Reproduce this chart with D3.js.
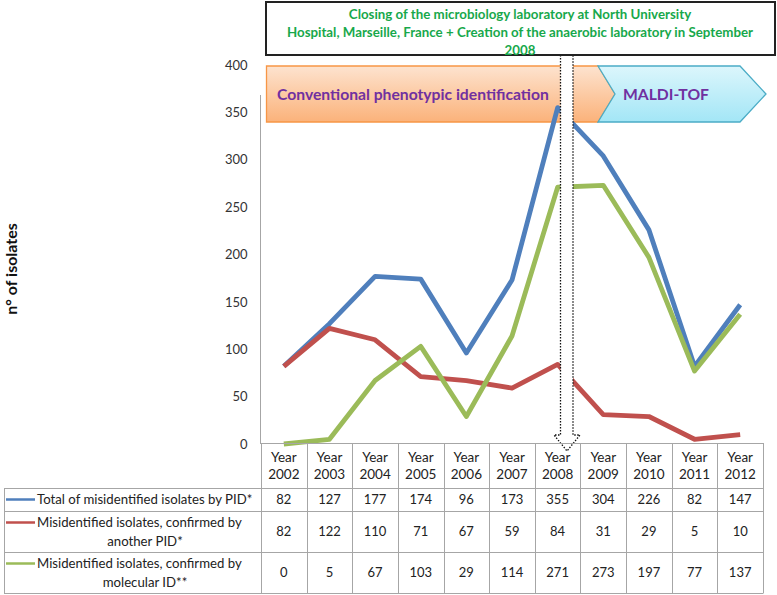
<!DOCTYPE html>
<html><head><meta charset="utf-8">
<script src="https://cdn.jsdelivr.net/npm/d3@7"></script>
<style>body{margin:0;background:#fff}svg{display:block;font-family:Lato,"Open Sans",sans-serif}</style>
</head><body><svg id="c" width="777" height="595"></svg>
<script>
const years = ["2002","2003","2004","2005","2006","2007","2008","2009","2010","2011","2012"];
const totalPID = [82,127,177,174,96,173,355,304,226,82,147];
const confirmedPID = [82,122,110,71,67,59,84,31,29,5,10];
const confirmedMol = [0,5,67,103,29,114,271,273,197,77,137];
const seriesNames = [["Total of misidentified isolates by PID*"],["Misidentified isolates, confirmed by","another PID*"],["Misidentified isolates, confirmed by","molecular ID**"]];
const seriesColors = ["#4f7fbc","#c0504d","#9bbb59"];
const yTicks = [0,50,100,150,200,250,300,350,400];
const annotation = ["Closing of the microbiology laboratory at North University","Hospital, Marseille, France + Creation of the anaerobic laboratory in September","2008"];
const phases = ["Conventional phenotypic identification","MALDI-TOF"];

const svg = d3.select("#c");
const series = [totalPID, confirmedPID, confirmedMol];
const x = d3.scaleBand().domain(years).range([261,763]);
const bw = x.bandwidth();
const cx = d => x(d)+bw/2;
const y = d3.scaleLinear().domain([0,400]).range([444,65]);

const defs = svg.append("defs");
const g1 = defs.append("linearGradient").attr("id","og").attr("x1",0).attr("y1",0).attr("x2",0).attr("y2",1);
g1.append("stop").attr("offset","0").attr("stop-color","#fde3cf");
g1.append("stop").attr("offset","1").attr("stop-color","#fbb27a");
const g2 = defs.append("linearGradient").attr("id","cg").attr("x1",0).attr("y1",0).attr("x2",0).attr("y2",1);
g2.append("stop").attr("offset","0").attr("stop-color","#dcf6fc");
g2.append("stop").attr("offset","1").attr("stop-color","#a3e6f6");

// y axis
const ya = svg.append("g").attr("transform","translate(260.5,0)")
  .call(d3.axisLeft(y).tickValues(yTicks).tickSize(0).tickPadding(13));
ya.select(".domain").remove();
ya.selectAll("text").attr("font-size",13).attr("fill","#333").attr("font-family","Lato");
svg.append("line").attr("x1",260.5).attr("x2",260.5).attr("y1",95).attr("y2",y(0)).attr("stroke","#a6a6a6");

svg.append("text").attr("transform","translate(17,269) rotate(-90)").attr("text-anchor","middle")
  .attr("font-size",16).attr("font-weight","bold").attr("fill","#111").text("n° of isolates");

// phase arrows
const yt=66, yb=122, ym=(yt+yb)/2;
svg.append("path").attr("d",`M266.5,${yt}H598L615,${ym}L598,${yb}H266.5Z`)
  .attr("fill","url(#og)").attr("stroke","#f79646").attr("stroke-width",1.3);
svg.append("path").attr("d",`M598,${yt}H740L766,${ym}L740,${yb}H598L615,${ym}Z`)
  .attr("fill","url(#cg)").attr("stroke","#4bacc6").attr("stroke-width",1.3);
svg.append("text").attr("x",277).attr("y",100).attr("font-size",15.7).attr("font-weight","bold").attr("fill","#7030a0").text(phases[0]);
svg.append("text").attr("x",623).attr("y",100).attr("font-size",15.7).attr("font-weight","bold").attr("fill","#7030a0").text(phases[1]);

// lines
const line = d3.line().x((d,i)=>cx(years[i])).y(d=>y(d));
series.forEach((s,k)=>{
  svg.append("path").datum(s).attr("d",line).attr("fill","none")
    .attr("stroke",seriesColors[k]).attr("stroke-width",4.8).attr("stroke-linejoin","round");
});

// dotted arrow
svg.append("path").attr("d","M560.5,55V435H554L567,451L580,435H573V55Z").attr("fill","#fff").attr("stroke","none");
svg.append("path").attr("d","M560.5,55V435H554L567,451L580,435H573V55").attr("fill","none")
  .attr("stroke","#111").attr("stroke-width",1.3).attr("stroke-dasharray","1.5,1.5");

// annotation box
svg.append("rect").attr("x",266).attr("y",2).attr("width",509).attr("height",53).attr("fill","#fff").attr("stroke","#222").attr("stroke-width",2);
annotation.forEach((t,i)=>{
  svg.append("text").attr("x",520).attr("y",19+i*18).attr("text-anchor","middle").attr("font-size",13.3)
    .attr("font-weight","bold").attr("fill","#17a84b").text(t);
});

// table
const tbl = svg.append("g");
const border = "#a6a6a6";
const rowY = [443,488,511,552,593];
const xs = years.map(d=>x(d)).concat([763]);
tbl.append("line").attr("x1",260.5).attr("x2",763).attr("y1",rowY[0]+.5).attr("y2",rowY[0]+.5).attr("stroke",border);
rowY.slice(1).forEach(r=>tbl.append("line").attr("x1",4).attr("x2",763).attr("y1",r+.5).attr("y2",r+.5).attr("stroke",border));
xs.forEach(v=>tbl.append("line").attr("x1",Math.round(v)+.5).attr("x2",Math.round(v)+.5).attr("y1",rowY[0]).attr("y2",rowY[4]+.5).attr("stroke",border));
tbl.append("line").attr("x1",4.5).attr("x2",4.5).attr("y1",rowY[1]).attr("y2",rowY[4]+.5).attr("stroke",border);
years.forEach(yr=>{
  tbl.append("text").attr("x",cx(yr)).attr("y",462).attr("text-anchor","middle").attr("font-size",13.5).attr("fill","#222").text("Year");
  tbl.append("text").attr("x",cx(yr)).attr("y",479).attr("text-anchor","middle").attr("font-size",13.5).attr("fill","#222").text(yr);
});
series.forEach((s,k)=>{
  const mid = (rowY[k+1]+rowY[k+2])/2;
  s.forEach((v,i)=>tbl.append("text").attr("x",cx(years[i])).attr("y",mid+4.5).attr("text-anchor","middle").attr("font-size",13).attr("fill","#222").text(v));
  const lines = seriesNames[k];
  const l0 = lines.length===1 ? mid+4.5 : mid-4.5;
  lines.forEach((t,j)=>tbl.append("text").attr("x",j===0?37:145).attr("y",l0+j*18.5)
     .attr("text-anchor",j===0?"start":"middle").attr("font-size",13.2).attr("fill","#222").text(t));
  tbl.append("line").attr("x1",6).attr("x2",35).attr("y1",l0-4.5).attr("y2",l0-4.5).attr("stroke",seriesColors[k]).attr("stroke-width",2.5);
});
</script></body></html>
